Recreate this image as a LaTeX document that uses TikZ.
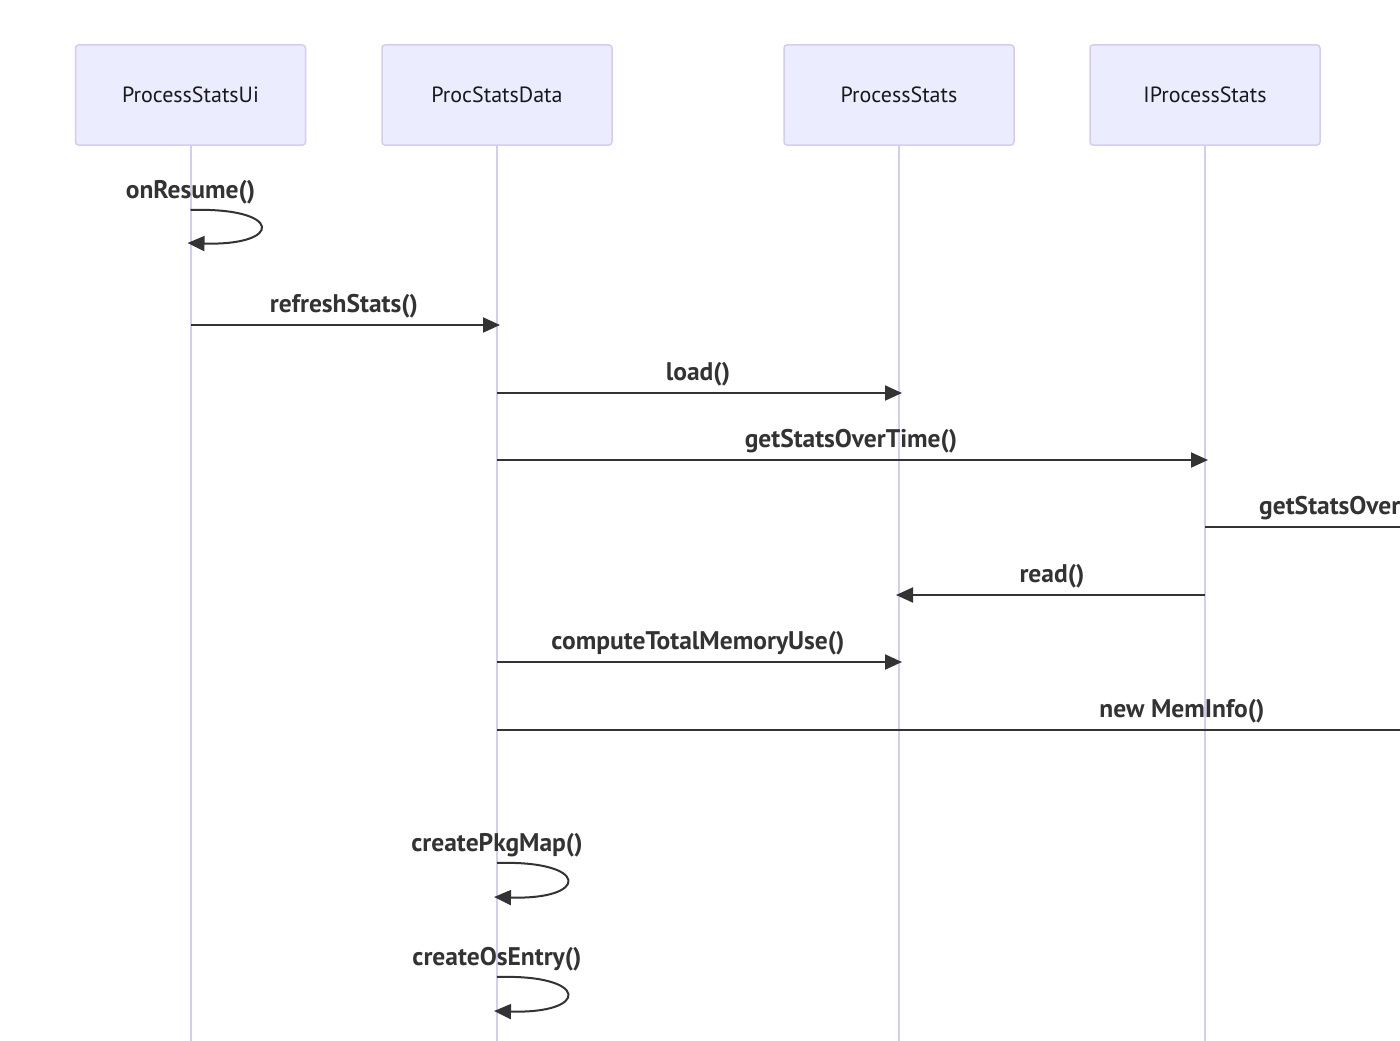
\documentclass[tikz,border=0pt]{standalone}
\usepackage{fontspec}
\setmainfont{PT Sans}
\usetikzlibrary{arrows.meta}
\definecolor{actfill}{HTML}{ECECFF}
\definecolor{actline}{HTML}{D6CCF2}
\definecolor{msg}{HTML}{333333}
\tikzset{
  actor/.style={draw=actline, line width=1.5pt, fill=actfill, rounded corners=3pt,
    minimum width=230pt, minimum height=100pt, inner sep=0pt, font=\fontsize{22}{26}\selectfont, text=black!90},
  lifeline/.style={draw=actline, line width=2pt},
  msgline/.style={draw=msg, line width=2pt, -{Triangle[length=17pt,width=15pt]}},
  plainmsg/.style={draw=msg, line width=2pt},
  lbl/.style={inner sep=0pt, text=msg, font=\bfseries\fontsize{25.5}{30}\selectfont},
}
\begin{document}
\begin{tikzpicture}[x=1pt,y=-1pt]
\useasboundingbox (0,0) rectangle (1400,1041);
\clip (0,0) rectangle (1400,1041);
\fill[white] (0,0) rectangle (1400,1041);
% actors
\node[actor] (ui) at (190.5,95) {ProcessStatsUi};
\node[actor] (data) at (497,95) {ProcStatsData};
\node[actor] (ps) at (899,95) {ProcessStats};
\node[actor] (ips) at (1205,95) {IProcessStats};
% lifeline ends
\coordinate (uiE) at (ui |- 0,1045);
\coordinate (dataE) at (data |- 0,1045);
\coordinate (psE) at (ps |- 0,1045);
\coordinate (ipsE) at (ips |- 0,1045);
\draw[lifeline] (ui.south) -- (uiE);
\draw[lifeline] (data.south) -- (dataE);
\draw[lifeline] (ps.south) -- (psE);
\draw[lifeline] (ips.south) -- (ipsE);
% onResume self loop
\coordinate (l1a) at (ui |- 0,210);
\coordinate (l1b) at ([xshift=-3pt]ui |- 0,243);
\draw[msgline] (l1a) .. controls ++(93,-3) and ++(96,3) .. (l1b);
\node[lbl] (t1) at (190.5,192) {onResume()};
% refreshStats
\coordinate (m2a) at (ui |- 0,325);
\coordinate (m2b) at ([xshift=3pt]data |- 0,325);
\draw[msgline] (m2a) -- (m2b);
\node[lbl] (t2) at (344,306.5) {refreshStats()};
% load
\coordinate (m3a) at (data |- 0,393);
\coordinate (m3b) at ([xshift=3pt]ps |- 0,393);
\draw[msgline] (m3a) -- (m3b);
\node[lbl] (t3) at (698,374.5) {load()};
% getStatsOverTime
\coordinate (m4a) at (data |- 0,460);
\coordinate (m4b) at ([xshift=3pt]ips |- 0,460);
\draw[msgline] (m4a) -- (m4b);
\node[lbl] (t4) at (851,441.5) {getStatsOverTime()};
% getStatsOverTime (off to the right)
\coordinate (m5a) at (ips |- 0,527);
\coordinate (m5b) at (1540,527);
\draw[plainmsg] (m5a) -- (m5b);
\node[lbl, anchor=west] (t5) at (1259,508.5) {getStatsOverTime()};
% read
\coordinate (m6a) at (ips |- 0,595);
\coordinate (m6b) at ([xshift=-3pt]ps |- 0,595);
\draw[msgline] (m6a) -- (m6b);
\node[lbl] (t6) at (1052,576.5) {read()};
% computeTotalMemoryUse
\coordinate (m7a) at (data |- 0,662);
\coordinate (m7b) at ([xshift=3pt]ps |- 0,662);
\draw[msgline] (m7a) -- (m7b);
\node[lbl] (t7) at (698,643.5) {computeTotalMemoryUse()};
% new MemInfo
\coordinate (m8a) at (data |- 0,730);
\coordinate (m8b) at (1870,730);
\draw[plainmsg] (m8a) -- (m8b);
\node[lbl] (t8) at (1182,711.5) {new MemInfo()};
% createPkgMap self loop
\coordinate (l9a) at (data |- 0,863);
\coordinate (l9b) at ([xshift=-3pt]data |- 0,897);
\draw[msgline] (l9a) .. controls ++(93,-3) and ++(96,3) .. (l9b);
\node[lbl] (t9) at (497,845.5) {createPkgMap()};
% createOsEntry self loop
\coordinate (l10a) at (data |- 0,977);
\coordinate (l10b) at ([xshift=-3pt]data |- 0,1011);
\draw[msgline] (l10a) .. controls ++(93,-3) and ++(96,3) .. (l10b);
\node[lbl] (t10) at (497,959.5) {createOsEntry()};
\end{tikzpicture}
\end{document}
